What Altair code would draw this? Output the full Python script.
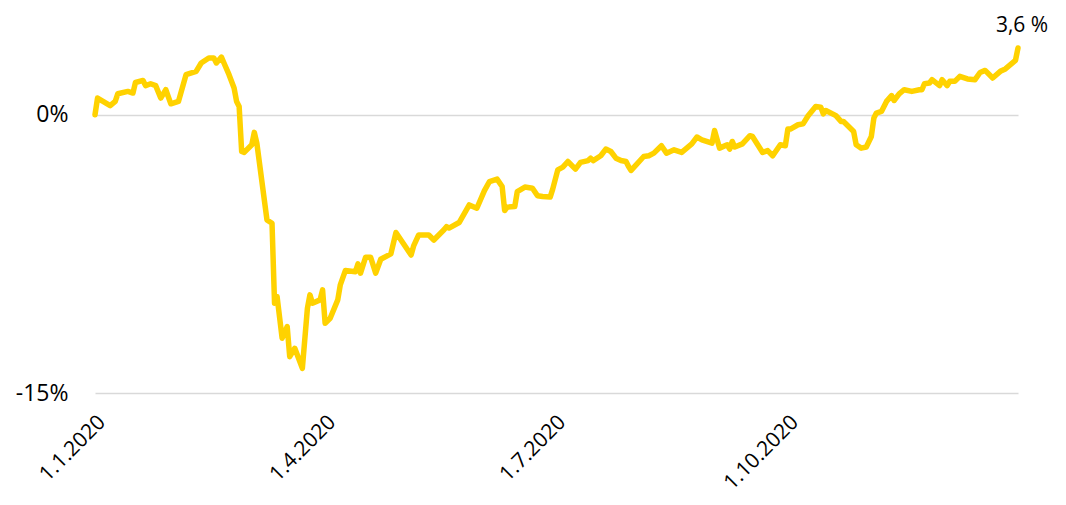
import altair as alt
import pandas as pd

# Day offsets from 1.1.2020 and performance values (%)
day_offsets = [0, 1, 6, 8, 9, 13, 15, 16, 19, 20, 22, 24, 26, 28, 30, 33, 36, 40, 42, 45,
               47, 48, 50, 51, 53, 55, 56, 57, 58, 59, 62, 63, 64, 68, 70, 71, 72, 74, 76, 77,
               79, 82, 84, 85, 86, 89, 90, 91, 93, 96, 97, 99, 103, 104, 105, 107, 109, 111, 113, 117,
               119, 125, 126, 128, 132, 134, 138, 139, 140, 144, 148, 151, 154, 156, 159, 161, 162, 163, 166, 167,
               170, 173, 175, 177, 180, 181, 183, 185, 187, 190, 192, 195, 196, 197, 200, 202, 204, 206, 208, 210,
               211, 212, 217, 219, 221, 224, 226, 229, 232, 236, 238, 240, 244, 245, 247, 250, 251, 252, 253, 256,
               259, 260, 264, 266, 268, 271, 273, 274, 275, 278, 280, 282, 285, 287, 288, 289, 293, 295, 296, 300,
               301, 303, 305, 307, 308, 309, 311, 313, 315, 316, 318, 320, 323, 326, 327, 328, 330, 331, 334, 335,
               337, 338, 340, 342, 345, 348, 350, 352, 355, 358, 360, 362, 364, 365]

values = [0.0, 0.9, 0.49, 0.72, 1.13, 1.26, 1.17, 1.74, 1.85, 1.57, 1.67, 1.57, 0.9, 1.35, 0.59, 0.72, 2.16, 2.34, 2.79, 3.06,
          3.06, 2.79, 3.11, 2.79, 2.16, 1.44, 0.72, 0.45, -1.98, -2.03, -1.62, -0.95, -1.53, -5.67, -5.85, -10.16, -9.8, -12.05, -11.42, -13.04,
          -12.59, -13.67, -10.43, -9.71, -10.16, -9.98, -9.44, -11.24, -10.97, -9.98, -9.17, -8.4, -8.46, -8.04, -8.54, -7.68, -7.68, -8.54, -7.79, -7.5,
          -6.35, -7.56, -7.07, -6.48, -6.48, -6.75, -6.2, -6.03, -6.11, -5.81, -4.86, -5.04, -4.09, -3.6, -3.47, -3.87, -5.16, -4.98, -4.95, -4.14,
          -3.9, -3.96, -4.37, -4.41, -4.44, -4.01, -2.97, -2.82, -2.52, -2.93, -2.57, -2.47, -2.34, -2.47, -2.21, -1.85, -1.98, -2.34, -2.47, -2.52,
          -2.79, -3.0, -2.25, -2.21, -2.07, -1.67, -2.07, -1.89, -2.03, -1.57, -1.2, -1.35, -1.53, -0.85, -1.8, -1.62, -1.85, -1.44, -1.74, -1.57,
          -1.13, -1.17, -2.03, -1.93, -2.21, -1.62, -1.67, -0.77, -0.77, -0.54, -0.49, -0.05, 0.45, 0.41, 0.05, 0.23, -0.05, -0.36, -0.36, -0.9,
          -1.62, -1.8, -1.74, -1.17, -0.18, 0.09, 0.18, 0.72, 1.03, 0.77, 1.13, 1.35, 1.26, 1.35, 1.35, 1.67, 1.71, 1.89, 1.57, 1.89,
          1.57, 1.8, 1.8, 2.07, 1.93, 1.89, 2.28, 2.39, 1.98, 2.34, 2.47, 2.7, 2.93, 3.6]

tick_dates = ["2020-01-01", "2020-04-01", "2020-07-01", "2020-10-01"]
y_ticks = [-15, 0]
end_label = "3,6 %"

start = pd.Timestamp("2020-01-01")
df = pd.DataFrame({
    "date": [start + pd.Timedelta(days=d) for d in day_offsets],
    "value": values,
})
last = df.tail(1).assign(label=end_label)

FONT = "Open Sans"
YELLOW = "#FFD200"

x_enc = alt.X(
    "date:T",
    scale=alt.Scale(domain=[alt.DateTime(year=2020, month=1, date=1),
                            alt.DateTime(year=2020, month=12, date=31)]),
    axis=alt.Axis(
        values=[alt.DateTime(year=int(s[:4]), month=int(s[5:7]), date=int(s[8:])) for s in tick_dates],
        format="%-d.%-m.%Y",
        labelAngle=-45,
        labelAlign="right",
        labelBaseline="top",
        labelPadding=18,
        labelOffset=-1,
        ticks=False,
        tickSize=0,
        domain=False,
        grid=False,
        labelFontSize=21,
        labelFont=FONT,
        labelColor="#000000",
        title=None,
    ),
)
y_enc = alt.Y(
    "value:Q",
    scale=alt.Scale(domain=[-15, 5], nice=False, zero=False),
    axis=alt.Axis(
        values=y_ticks,
        labelExpr="datum.value + '%'",
        ticks=False,
        domain=False,
        grid=True,
        gridColor="#D9D9D9",
        gridWidth=1.4,
        labelPadding=27,
        labelFontSize=23,
        labelFont=FONT,
        labelColor="#000000",
        title=None,
    ),
)

line = alt.Chart(df).mark_line(color=YELLOW, strokeWidth=5.5, strokeJoin="round", strokeCap="round").encode(
    x=x_enc, y=y_enc
)

label = alt.Chart(last).mark_text(
    font=FONT, fontSize=21, color="#000000", align="center", baseline="middle", dx=4, dy=-22
).encode(x="date:T", y="value:Q", text="label:N")

chart = alt.layer(line, label).properties(
    width=923,
    height=371,
    autosize=alt.AutoSizeParams(type="none"),
    padding={"left": 87, "top": 14, "right": 40, "bottom": 103},
).configure_view(stroke=None)

chart.save("out.html", embed_options={"renderer": "svg", "actions": False})
